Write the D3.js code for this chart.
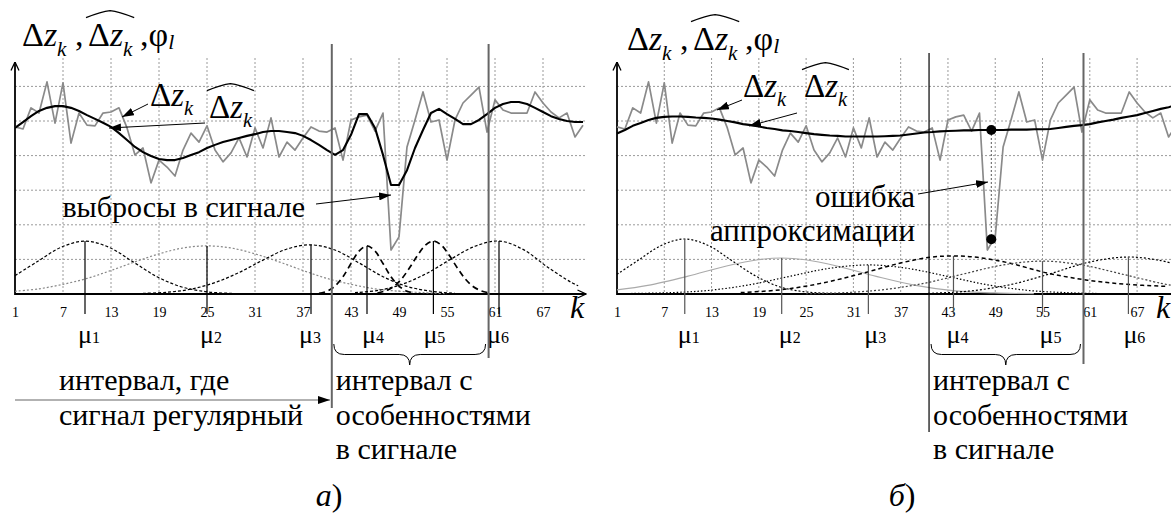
<!DOCTYPE html>
<html>
<head>
<meta charset="utf-8">
<script src="https://cdn.jsdelivr.net/npm/d3@7"></script>
<style>
  body { margin: 0; background: #fff; }
</style>
</head>
<body>
<svg id="fig" width="1171" height="515"></svg>
<script>
// measured signal (same in both panels), k = 1..72
const signal = [4.83,4.77,5.38,5.23,6.13,4.94,6.10,4.36,5.23,4.88,
  4.86,5.23,5.26,5.38,4.80,4.02,4.22,3.21,3.87,3.67,
  3.41,4.16,4.65,4.39,4.86,4.16,3.82,4.08,4.51,3.96,
  4.80,4.22,5.09,3.96,4.39,4.16,4.51,4.83,4.71,4.68,
  4.80,3.87,5.03,5.12,5.17,4.71,5.23,1.27,1.65,4.25,
  5.03,5.84,4.97,5.03,3.87,5.03,5.52,5.75,5.98,4.68,
  5.61,5.32,5.23,5.23,5.23,5.84,5.52,5.26,5.09,5.23,4.54,4.88];

// approximation, panel a
const approxA = [4.80,4.97,5.14,5.29,5.38,5.43,5.43,5.38,5.29,5.17,
  5.06,4.95,4.83,4.65,4.45,4.25,4.10,3.99,3.90,3.87,
  3.87,3.93,4.02,4.10,4.22,4.31,4.39,4.45,4.51,4.57,
  4.62,4.68,4.71,4.71,4.68,4.65,4.57,4.45,4.31,4.16,
  4.02,4.16,4.60,5.20,5.20,4.80,4.02,3.15,3.15,3.58,
  4.22,4.74,5.23,5.35,5.20,5.06,4.91,4.91,5.03,5.20,
  5.38,5.49,5.55,5.55,5.49,5.38,5.26,5.14,5.06,5.00,4.97,4.97];

// approximation, panel b
const approxB = [4.64,4.74,4.86,4.94,5.03,5.09,5.12,5.13,5.13,5.12,
  5.10,5.09,5.07,5.04,5.00,4.96,4.91,4.88,4.84,4.80,
  4.77,4.73,4.71,4.68,4.65,4.62,4.60,4.58,4.57,4.55,
  4.55,4.55,4.55,4.55,4.56,4.57,4.58,4.61,4.64,4.67,
  4.68,4.70,4.71,4.72,4.73,4.73,4.74,4.74,4.74,4.74,
  4.75,4.75,4.75,4.76,4.76,4.77,4.80,4.83,4.86,4.88,
  4.91,4.96,5.00,5.04,5.09,5.13,5.17,5.23,5.29,5.35,5.40,5.46];

const tickLabels = [1,7,13,19,25,31,37,43,49,55,61,67];
const gridValues = [1,2,3,4,5,6];

// basis functions, panel a: centres, sample positions, heights
const muA = [9.75, 25, 38, 45, 53.3, 61.5];
const basisAK = [
  [1,3.75,6.75,9.75,12.75,15.75,18.75,21.75,24.75,27.75,30.75],
  [1,4,7,10,13,16,19,22,25,28,31,34,37,40,43,46,49,52,55],
  [17,20,23,26,29,32,35,38,41,44,47,50,53,56],
  [39,40,41,42,43,44,45,46,47,48,49,50,51],
  [46.3,47.3,48.3,49.3,50.3,51.3,52.3,53.3,54.3,55.3,56.3,57.3,58.3,59.3,60.3],
  [43.5,46.5,49.5,52.5,55.5,58.5,61.5,64.5,67.5,70.5,71.4]
];
const basisAV = [
  [0.53,0.93,1.35,1.53,1.35,0.93,0.50,0.21,0.07,0.02,0.00],
  [0.08,0.15,0.28,0.45,0.68,0.93,1.16,1.33,1.39,1.33,1.16,0.93,0.68,0.45,0.28,0.15,0.08,0.04,0.01],
  [0.02,0.05,0.14,0.33,0.62,0.98,1.30,1.42,1.27,0.90,0.50,0.22,0.08,0.02],
  [0.02,0.08,0.23,0.50,0.88,1.24,1.39,1.24,0.88,0.50,0.23,0.08,0.02],
  [0.03,0.09,0.21,0.43,0.75,1.11,1.41,1.53,1.41,1.11,0.75,0.43,0.21,0.09,0.03],
  [0.04,0.11,0.29,0.60,1.01,1.38,1.53,1.29,0.79,0.34,0.24]
];
const muPeakA = [1.53, 1.39, 1.42, 1.39, 1.53, 1.53];

// basis functions, panel b
const muB = [9.6, 21.9, 32.9, 43.7, 55, 65.9];
const basisBK = [
  [1,3.6,6.6,9.6,12.6,15.6,18.6,21.6,24.6,27.6,30.6],
  [1,4.9,9.9,14.9,18.9,21.9,24.9,28.9,33.9,38.9,43.9,48.9,53.9],
  [1,7.9,12.9,17.9,22.9,27.9,32.9,37.9,42.9,47.9,52.9,57.9,62.9],
  [16.7,21.7,26.7,31.7,36.7,40.7,43.7,46.7,50.7,55.7,60.7,65.7,70.7],
  [25,30,35,40,45,50,55,60,65,70,71.4],
  [35.9,40.9,45.9,50.9,55.9,60.9,65.9,69.9,71.4]
];
const basisBV = [
  [0.57,0.96,1.40,1.59,1.40,0.96,0.52,0.21,0.07,0.02,0.00],
  [0.12,0.25,0.51,0.81,0.99,1.04,0.99,0.81,0.51,0.25,0.09,0.03,0.01],
  [0.01,0.04,0.11,0.27,0.51,0.74,0.84,0.74,0.51,0.27,0.11,0.04,0.01],
  [0.04,0.12,0.30,0.57,0.88,1.06,1.10,1.06,0.90,0.60,0.40,0.28,0.22],
  [0.01,0.04,0.13,0.31,0.58,0.84,0.95,0.84,0.58,0.31,0.25],
  [0.00,0.02,0.09,0.27,0.58,0.92,1.07,0.97,0.89]
];
const muPeakB = [1.59, 1.04, 0.84, 1.10, 0.95, 1.07];

// interval with features (k), and the approximation error marker in panel b
const featureInterval = [40.6, 60.2];
const errorK = 48.5;
const errorValues = [4.74, 1.58];

const styleA = [
  {stroke: '#000', dash: '3,2', w: 1.2},
  {stroke: '#888', dash: '2,2', w: 1.2},
  {stroke: '#000', dash: '3,2', w: 1.2},
  {stroke: '#000', dash: '6,4', w: 1.7},
  {stroke: '#000', dash: '6,4', w: 1.7},
  {stroke: '#000', dash: '3,2', w: 1.2}
];
const styleB = [
  {stroke: '#000', dash: '2,2', w: 1.2},
  {stroke: '#aaa', dash: null, w: 1.2},
  {stroke: '#000', dash: '1.5,2', w: 1.2},
  {stroke: '#000', dash: '4,3', w: 1.5},
  {stroke: '#444', dash: '2,2', w: 1.2},
  {stroke: '#000', dash: '2,2', w: 1.2}
];

const serif = '"Liberation Serif", "Times New Roman", serif';
const svg = d3.select('#fig');
const defs = svg.append('defs');
defs.append('marker').attr('id', 'tri')
  .attr('viewBox', '0 0 12 8').attr('refX', 12).attr('refY', 4)
  .attr('markerWidth', 12).attr('markerHeight', 8)
  .attr('markerUnits', 'userSpaceOnUse').attr('orient', 'auto')
  .append('path').attr('d', 'M0,0 L12,4 L0,8 z').attr('fill', '#000');
defs.append('marker').attr('id', 'open')
  .attr('viewBox', '0 0 10 10').attr('refX', 9.5).attr('refY', 5)
  .attr('markerWidth', 10).attr('markerHeight', 10)
  .attr('markerUnits', 'userSpaceOnUse').attr('orient', 'auto')
  .append('path').attr('d', 'M1,1 L9.5,5 L1,9').attr('fill', 'none')
  .attr('stroke', '#000').attr('stroke-width', 1.3);

const y = d3.scaleLinear().domain([0, 6]).range([294, 86.4]);

function label(g, x, yb, fs, s) {
  return g.append('text').attr('x', x).attr('y', yb).attr('font-size', fs)
    .style('font-family', serif).text(s);
}

// Δz_k with optional hat
function deltaZ(g, x, yb, fs, hat) {
  const t = label(g, x, yb, fs, null);
  t.append('tspan').text('Δ');
  t.append('tspan').attr('font-style', 'italic').text('z');
  t.append('tspan').attr('font-style', 'italic').attr('font-size', fs * 0.62)
    .attr('dy', fs * 0.28).text('k');
  if (hat) {
    const w = fs * 1.3, top = yb - fs * 0.98;
    g.append('path')
      .attr('d', `M${x - 2},${top + 5} Q${x + w * 0.3},${top - 1} ${x + w / 2},${top - 2} Q${x + w * 0.7},${top - 1} ${x + w + 2},${top + 5}`)
      .attr('fill', 'none').attr('stroke', '#000').attr('stroke-width', 1.2);
  }
}

function title(g, x, yb) {
  deltaZ(g, x, yb, 34, false);
  label(g, x + 53, yb, 34, ',');
  deltaZ(g, x + 66, yb, 34, true);
  const t = label(g, x + 118, yb, 34, null);
  t.append('tspan').text(',φ');
  t.append('tspan').attr('font-style', 'italic').attr('font-size', 22).attr('dy', 3).text('l');
}

function brace(g, x1, x2, y0, h) {
  const xm = (x1 + x2) / 2, r = h / 2;
  g.append('path')
    .attr('d', `M${x1},${y0} Q${x1},${y0 + r} ${x1 + r},${y0 + r} L${xm - r},${y0 + r} Q${xm},${y0 + r} ${xm},${y0 + h} Q${xm},${y0 + r} ${xm + r},${y0 + r} L${x2 - r},${y0 + r} Q${x2},${y0 + r} ${x2},${y0}`)
    .attr('fill', 'none').attr('stroke', '#000').attr('stroke-width', 1);
}

function textLines(g, x, yb, lines, fs, lh) {
  lines.forEach((s, i) => label(g, x, yb + i * lh, fs, s));
}

function panel(p) {
  const x = d3.scaleLinear().domain([1, 72]).range([p.x0, p.x0 + 71 * p.dx]);
  const g = svg.append('g');

  // grid
  g.selectAll('.hg').data(gridValues).join('line')
    .attr('x1', p.x0).attr('x2', p.gridEnd)
    .attr('y1', d => y(d)).attr('y2', d => y(d))
    .attr('stroke', '#9a9a9a').attr('stroke-dasharray', '2,2');
  g.selectAll('.vg').data(tickLabels.slice(1)).join('line')
    .attr('x1', d => x(d)).attr('x2', d => x(d))
    .attr('y1', 58).attr('y2', 294)
    .attr('stroke', '#9a9a9a').attr('stroke-dasharray', '2,2');

  // axes
  g.append('line').attr('x1', p.x0).attr('x2', p.x0).attr('y1', 295).attr('y2', 62)
    .attr('stroke', '#000').attr('stroke-width', 1.8).attr('marker-end', 'url(#open)');
  g.append('line').attr('x1', p.x0).attr('x2', p.axisEnd).attr('y1', 294).attr('y2', 294)
    .attr('stroke', '#000').attr('stroke-width', 1.8).attr('marker-end', 'url(#open)');

  const axis = d3.axisBottom(x).tickValues(tickLabels).tickSize(0).tickPadding(13);
  const ax = g.append('g').attr('transform', 'translate(0,294)').call(axis);
  ax.select('.domain').remove();
  ax.selectAll('text').attr('font-size', 14).attr('fill', '#000').style('font-family', serif);
  label(g, p.kLabelX, 318, 32, 'k').attr('font-style', 'italic');

  // basis functions
  const bLine = d3.line().curve(d3.curveCatmullRom);
  p.basisK.forEach((ks, i) => {
    const pts = ks.map((k, j) => [x(k), y(p.basisV[i][j])]);
    g.append('path').attr('d', bLine(pts)).attr('fill', 'none')
      .attr('stroke', p.styles[i].stroke).attr('stroke-width', p.styles[i].w)
      .attr('stroke-dasharray', p.styles[i].dash);
  });
  g.selectAll('.mu').data(p.mu).join('line')
    .attr('x1', d => x(d)).attr('x2', d => x(d))
    .attr('y1', (d, i) => y(p.muPeak[i])).attr('y2', 314)
    .attr('stroke', p.muColor).attr('stroke-width', 1.2);
  p.mu.forEach((m, i) => {
    const t = label(g, x(m) - 7 + p.muShift[i], 343, 26, null);
    t.append('tspan').text('μ');
    t.append('tspan').attr('font-size', 16).text(i + 1);
  });

  // signal and approximation
  const line = d3.line().x((d, i) => x(i + 1)).y(d => y(d));
  g.append('path').attr('d', line(signal)).attr('fill', 'none')
    .attr('stroke', '#8a8a8a').attr('stroke-width', 1.7).attr('stroke-linejoin', 'round');
  g.append('path').attr('d', line(p.approx)).attr('fill', 'none')
    .attr('stroke', '#000').attr('stroke-width', 2.1).attr('stroke-linejoin', 'round');

  // interval boundaries
  g.append('line').attr('x1', x(featureInterval[0])).attr('x2', x(featureInterval[0]))
    .attr('y1', p.lineTop).attr('y2', p.line1Bottom)
    .attr('stroke', p.line1Color).attr('stroke-width', p.line1W);
  g.append('line').attr('x1', x(featureInterval[1])).attr('x2', x(featureInterval[1]))
    .attr('y1', p.lineTop).attr('y2', p.line2Bottom)
    .attr('stroke', '#666').attr('stroke-width', 2);
  brace(g, x(featureInterval[0]) + 2, x(featureInterval[1]) - 3, 344, 21);

  textLines(g, x(featureInterval[0]) + 4, 390, ['интервал с', 'особенностями', 'в сигнале'], 30, 34.5);
  return {g, x};
}

// panel a
const A = panel({
  x0: 15, dx: 8, gridEnd: 585, axisEnd: 586, kLabelX: 570,
  basisK: basisAK, basisV: basisAV, styles: styleA, mu: muA, muPeak: muPeakA,
  muColor: '#000', muShift: [0, 0, -5, 2, -3, -5], approx: approxA,
  lineTop: 44, line1Bottom: 408, line2Bottom: 358, line1Color: '#666', line1W: 2
});
title(A.g, 22, 46);
deltaZ(A.g, 150, 106, 33, false);
deltaZ(A.g, 209, 118, 33, true);
A.g.append('line').attr('x1', 148).attr('y1', 104).attr('x2', 122).attr('y2', 117)
  .attr('stroke', '#000').attr('marker-end', 'url(#tri)');
A.g.append('line').attr('x1', 205).attr('y1', 123).attr('x2', 109).attr('y2', 128)
  .attr('stroke', '#000').attr('marker-end', 'url(#tri)');
label(A.g, 305, 217, 30, 'выбросы в сигнале').attr('text-anchor', 'end');
A.g.append('line').attr('x1', 316).attr('y1', 204).attr('x2', 391).attr('y2', 195)
  .attr('stroke', '#000').attr('marker-end', 'url(#tri)');
textLines(A.g, 59, 390, ['интервал, где', 'сигнал регулярный'], 30, 34.5);
A.g.append('line').attr('x1', 15).attr('y1', 400).attr('x2', 330).attr('y2', 400)
  .attr('stroke', '#666').attr('stroke-width', 1.2).attr('marker-end', 'url(#tri)');
const la = label(A.g, 329, 506, 32, null).attr('text-anchor', 'middle');
la.append('tspan').attr('font-style', 'italic').text('а');
la.append('tspan').text(')');

// panel b
const B = panel({
  x0: 617, dx: 7.88, gridEnd: 1171, axisEnd: 1200, kLabelX: 1156,
  basisK: basisBK, basisV: basisBV, styles: styleB, mu: muB, muPeak: muPeakB,
  muColor: '#555', muShift: [0, 4, 3, 0, 4, 2], approx: approxB,
  lineTop: 53, line1Bottom: 432, line2Bottom: 364, line1Color: '#000', line1W: 1.2
});
title(B.g, 627, 50);
deltaZ(B.g, 743, 97, 33, false);
deltaZ(B.g, 804, 97, 33, true);
B.g.append('line').attr('x1', 742).attr('y1', 100).attr('x2', 717).attr('y2', 110)
  .attr('stroke', '#000').attr('marker-end', 'url(#tri)');
B.g.append('line').attr('x1', 797).attr('y1', 113).attr('x2', 749).attr('y2', 126)
  .attr('stroke', '#000').attr('marker-end', 'url(#tri)');
B.g.append('line').attr('x1', B.x(errorK)).attr('x2', B.x(errorK))
  .attr('y1', y(errorValues[0])).attr('y2', y(errorValues[1]))
  .attr('stroke', '#555').attr('stroke-dasharray', '2,2');
B.g.selectAll('.err').data(errorValues).join('circle')
  .attr('cx', B.x(errorK)).attr('cy', d => y(d)).attr('r', 5).attr('fill', '#000');
label(B.g, 915, 207, 31, 'ошибка').attr('text-anchor', 'end');
label(B.g, 915, 241, 31, 'аппроксимации').attr('text-anchor', 'end');
B.g.append('line').attr('x1', 918).attr('y1', 194).attr('x2', 988).attr('y2', 182)
  .attr('stroke', '#000').attr('marker-end', 'url(#tri)');
const lb = label(B.g, 902, 506, 32, null).attr('text-anchor', 'middle');
lb.append('tspan').attr('font-style', 'italic').text('б');
lb.append('tspan').text(')');
</script>
</body>
</html>
